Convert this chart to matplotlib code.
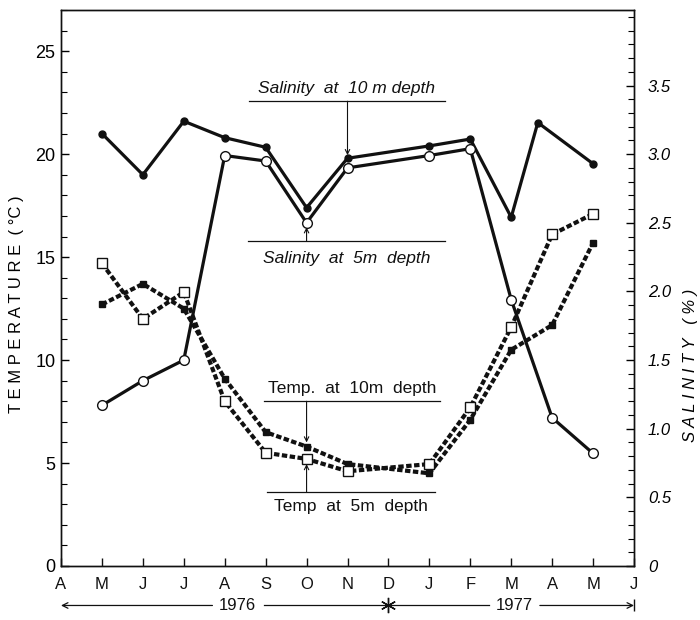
import numpy as np
import matplotlib.pyplot as plt
from matplotlib.ticker import MultipleLocator, FixedLocator

plt.rcParams['font.family'] = ['Liberation Sans Narrow', 'Liberation Sans', 'DejaVu Sans']

months = ['A', 'M', 'J', 'J', 'A', 'S', 'O', 'N', 'D', 'J', 'F', 'M', 'A', 'M', 'J']
# sampling dates as month index from April 1976 (no sample in December)
x_samp = [1, 2, 3, 4, 5, 6, 7, 9, 10, 11, 12, 13]
x_sal10 = [1, 2, 3, 4, 5, 6, 7, 9, 10, 11, 11.65, 13]

temp_10m = [12.7, 13.7, 12.5, 9.1, 6.5, 5.8, 4.95, 4.5, 7.1, 10.5, 11.7, 15.7]
temp_5m = [14.7, 12.0, 13.3, 8.0, 5.5, 5.2, 4.6, 4.95, 7.7, 11.6, 16.1, 17.1]
sal_10m = [3.15, 2.85, 3.24, 3.12, 3.05, 2.61, 2.97, 3.06, 3.11, 2.54, 3.23, 2.93]
sal_5m = [1.17, 1.35, 1.50, 2.99, 2.95, 2.50, 2.90, 2.99, 3.04, 1.94, 1.08, 0.82]

ink = '#111111'
T_MAX = 27.0
S_PER_T = 0.15   # 3.0 % salinity sits level with 20 degC

fig = plt.figure(figsize=(7, 6.2), dpi=100)
ax = fig.add_axes([61/700, 54/620, 573/700, 556/620])
ax2 = ax.twinx()

ax.set_xlim(0, 14)
ax.set_ylim(0, T_MAX)
ax2.set_ylim(0, T_MAX*S_PER_T)

# temperature, dashed with squares
dash = dict(color=ink, lw=3.0, dashes=(1.3, 0.6))
ax.plot(x_samp, temp_10m, **dash, marker='s', ms=5, mfc=ink, mec=ink, zorder=3)
ax.plot(x_samp, temp_5m, **dash, marker='s', ms=6.5, mfc='white', mec=ink, mew=1.0, zorder=4)

# salinity, solid with circles
ax2.plot(x_sal10, sal_10m, color=ink, lw=2.3, marker='o', ms=5, mfc=ink, mec=ink, zorder=3)
ax2.plot(x_samp, sal_5m, color=ink, lw=2.3, marker='o', ms=7, mfc='white', mec=ink, mew=1.0, zorder=4)

# axes styling
for a in (ax, ax2):
    for s in a.spines.values():
        s.set_linewidth(1.0)
        s.set_color(ink)

ax.xaxis.set_major_locator(FixedLocator(range(15)))
ax.set_xticklabels(months, fontsize=12)
ax.tick_params(axis='x', direction='in', length=6, width=1, pad=8, colors=ink)

ax.yaxis.set_major_locator(MultipleLocator(5))
ax.yaxis.set_minor_locator(MultipleLocator(1))
ax.tick_params(axis='y', which='major', direction='in', length=6, width=1, pad=4, labelsize=13)
ax.tick_params(axis='y', which='minor', direction='in', length=4, width=0.8)
ax.set_yticks([0, 5, 10, 15, 20, 25])
ax.set_ylabel('T E M P E R A T U R E  ( °C )', fontsize=12, labelpad=10)
ax.yaxis.set_label_coords(-0.065, 0.47)

sal_ticks = [0, 0.5, 1.0, 1.5, 2.0, 2.5, 3.0, 3.5]
ax2.set_yticks(sal_ticks)
ax2.set_yticklabels(['0'] + ['%.1f' % v for v in sal_ticks[1:]], fontstyle='italic', fontsize=12)
ax2.yaxis.set_minor_locator(MultipleLocator(0.1))
ax2.tick_params(axis='y', which='major', direction='in', length=6, width=1, pad=10)
ax2.tick_params(axis='y', which='minor', direction='in', length=4, width=0.8)
ax2.set_ylabel('S A L I N I T Y   ( % )', fontsize=12, fontstyle='italic', rotation=90)
ax2.yaxis.set_label_coords(1.085, 0.36)

# labels with leader lines
def tag(a, text, x0, x1, y_line, y_text, xa, y_tip, style='italic'):
    a.plot([x0, x1], [y_line, y_line], color=ink, lw=0.9, clip_on=False)
    a.text((x0 + x1)/2, y_text, text, ha='center', va='center', fontsize=12.5,
           fontstyle=style, color=ink)
    a.annotate('', xy=(xa, y_tip), xytext=(xa, y_line),
               arrowprops=dict(arrowstyle='->', color=ink, lw=0.8,
                               shrinkA=0, shrinkB=0, mutation_scale=8))

tag(ax, 'Salinity  at  10 m depth', 4.59, 9.38, 22.57, 23.2, 7.0, 19.95)
tag(ax, 'Salinity  at  5m  depth', 4.57, 9.38, 15.78, 14.95, 6.0, 16.45)
tag(ax, 'Temp.  at  10m  depth', 4.96, 9.26, 8.0, 8.6, 6.0, 6.0, style='normal')
tag(ax, 'Temp  at  5m  depth', 5.03, 9.14, 3.59, 2.9, 6.0, 4.95, style='normal')

# year bar under the month axis
tr = ax.get_xaxis_transform()
yb = -0.071
ax.annotate('', xy=(0, yb), xytext=(3.7, yb), xycoords=tr, textcoords=tr,
            arrowprops=dict(arrowstyle='->', color=ink, lw=0.9, shrinkA=0, shrinkB=0))
ax.plot([4.95, 8], [yb, yb], color=ink, lw=0.9, transform=tr, clip_on=False)
ax.plot([8, 10.45], [yb, yb], color=ink, lw=0.9, transform=tr, clip_on=False)
ax.annotate('', xy=(14, yb), xytext=(11.7, yb), xycoords=tr, textcoords=tr,
            arrowprops=dict(arrowstyle='->', color=ink, lw=0.9, shrinkA=0, shrinkB=0))
ax.plot([14], [yb], marker='|', ms=9, mew=1.0, color=ink, transform=tr, clip_on=False)
ax.plot([8], [yb], marker=(6, 2, 0), ms=11, mew=1.0, color=ink, transform=tr, clip_on=False)
ax.text(4.32, yb, '1976', transform=tr, ha='center', va='center', fontsize=12, color=ink)
ax.text(11.07, yb, '1977', transform=tr, ha='center', va='center', fontsize=12, color=ink)

fig.savefig('out.png', dpi=100)
